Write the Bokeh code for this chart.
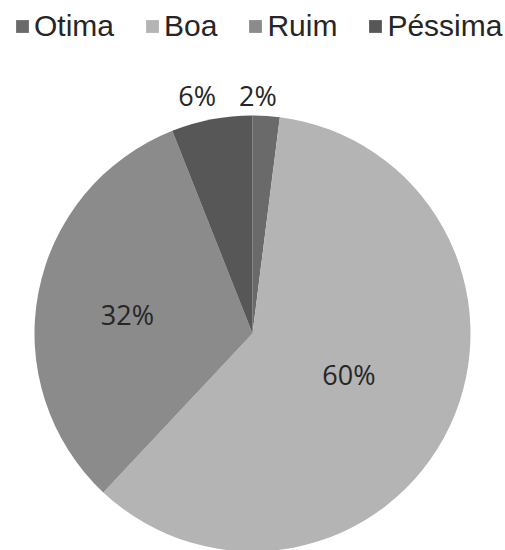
import numpy as np
from bokeh.plotting import figure
from bokeh.models import ColumnDataSource, Range1d, Legend, LegendItem
from bokeh.core.properties import value
from bokeh.embed import file_html
from bokeh.resources import INLINE

categories = ["Otima", "Boa", "Ruim", "Péssima"]
percent = [2, 60, 32, 6]
labels = ["2%", "60%", "32%", "6%"]
colors = ["#6a6a6a", "#b4b4b4", "#8b8b8b", "#575757"]

W, H = 505, 550
cx, cy, R = 252, 550 - 333, 218
label_radius = [1.09, 0.48, 0.58, 1.12]
label_turn = np.deg2rad(2.3)

frac = np.array(percent, dtype=float) / sum(percent)
ends = np.pi / 2 - 2 * np.pi * np.cumsum(frac)
starts = np.concatenate([[np.pi / 2], ends[:-1]])
mids = (starts + ends) / 2 + label_turn

src = ColumnDataSource(dict(
    cat=categories, start=starts, end=ends, color=colors,
    lx=cx + np.array(label_radius) * R * np.cos(mids),
    ly=cy + np.array(label_radius) * R * np.sin(mids),
    lab=labels,
))

p = figure(width=W, height=H, output_backend="svg", toolbar_location=None,
           x_range=Range1d(0, W), y_range=Range1d(0, H), min_border=0)
p.axis.visible = False
p.grid.visible = False
p.outline_line_color = None

r = p.wedge(x=cx, y=cy, radius=R, start_angle="end", end_angle="start",
            direction="anticlock", fill_color="color", line_color=None, source=src)

p.text(x="lx", y="ly", text="lab", source=src, text_align="center",
       text_baseline="middle", text_font=value("Open Sans"),
       text_font_size="27px", text_color="#262626")

items = [LegendItem(label=c, renderers=[r], index=i) for i, c in enumerate(categories)]
legend = Legend(items=items, orientation="horizontal", location=(14, H - 46),
                spacing=30, label_standoff=4, glyph_width=16, glyph_height=16,
                padding=0, margin=0, border_line_color=None,
                background_fill_alpha=0,
                label_text_font="Liberation Sans", label_text_font_size="30px",
                label_text_color="#262626", label_height=40)
p.add_layout(legend)

open("out.html", "w").write(file_html(p, INLINE))
